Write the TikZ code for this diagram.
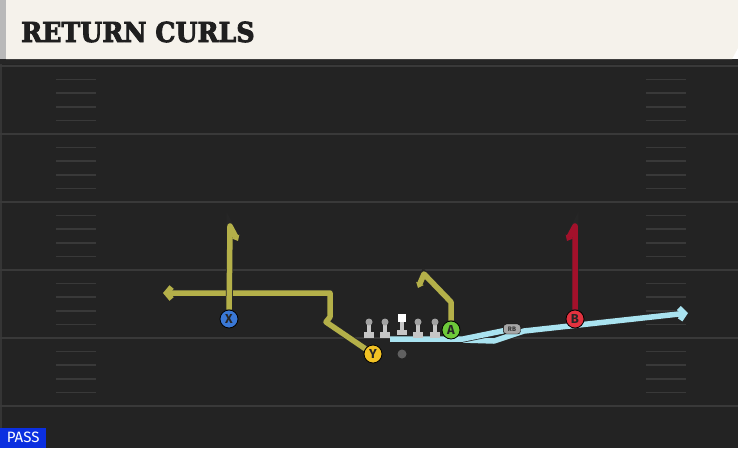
\documentclass[tikz,border=0pt]{standalone}
\usepackage{fontspec}
\setsansfont{Fira Sans}
\newfontfamily\titlefont[FakeBold=3,FakeStretch=0.92]{DejaVu Serif}
\usetikzlibrary{arrows.meta,backgrounds}
\definecolor{fieldgray}{HTML}{232323}
\definecolor{yardgray}{HTML}{393939}
\definecolor{cream}{HTML}{F5F2EB}
\definecolor{routeolive}{HTML}{B4B049}
\definecolor{routered}{HTML}{A3112B}
\definecolor{routecyan}{HTML}{A9E3F0}
\definecolor{xblue}{HTML}{3A78D6}
\definecolor{ygold}{HTML}{F2C224}
\definecolor{agreen}{HTML}{6DC93A}
\definecolor{bred}{HTML}{E2323F}
\definecolor{passblue}{HTML}{0B2FE0}
\definecolor{linegray}{HTML}{C6C6C6}
\definecolor{headgray}{HTML}{A2A2A2}
\tikzset{
  lineman/.pic={
    \fill[linegray] (-5,10) rectangle (5,16);
    \fill[linegray] (-2,2) rectangle (2,10);
    \fill[headgray] (0,0) circle (3.5);
  },
  snapman/.pic={
    \fill[linegray] (-5,8) rectangle (5,13);
    \fill[linegray] (-2,0) rectangle (2,8);
    \fill[white] (-4,-8) rectangle (4,0);
  }
}
\begin{document}
\begin{tikzpicture}[x=1pt,y=-1pt,
    player/.style={circle, draw=black, line width=0.8pt, minimum size=18, inner sep=0pt,
      font=\fontsize{13}{13}\sffamily\bfseries, text=black!85},
    route/.style={line width=5.5pt, line join=round, preaction={draw=black!85, line width=7pt}},
    curl/.style={-{Triangle[length=5pt,width=8pt]}},
    barb/.style={-{Straight Barb[length=5pt,width=12pt]}}]
\useasboundingbox (0,0) rectangle (738,448);
% field
\begin{scope}[on background layer]
  \fill[fieldgray] (0,59) rectangle (738,448);
  \fill[yardgray!80!fieldgray] (0,59) rectangle (2,448);
  \foreach \y in {66,134,202,270,338,406}
    \draw[yardgray, line width=2pt] (0,\y) -- (738,\y);
  \foreach \y in {66,134,202,270,338}
    \foreach \k in {1,...,4} {
      \draw[yardgray, line width=1.5pt] (56,\y+13.6*\k) -- (96,\y+13.6*\k);
      \draw[yardgray, line width=1.5pt] (646,\y+13.6*\k) -- (686,\y+13.6*\k);
    }
\end{scope}
% title bar
\fill[black!85] (0,59) rectangle (738,64);
\fill[gray!55] (0,0) rectangle (6,59);
\fill[cream] (6,0) -- (738,0) -- (738,48) -- (732,59) -- (6,59) -- cycle;
\node[anchor=base west, inner sep=0pt, text=black!88,
  font=\fontsize{27.5}{30}\titlefont\bfseries] (title) at (21,42) {RETURN CURLS};
\node[anchor=south west, fill=passblue, text=white, inner sep=0pt, minimum width=46,
  minimum height=20, font=\fontsize{15}{15}\sffamily] (pass) at (0,448) {PASS};
% line
\pic (lt) at (369,322) {lineman};
\pic (lg) at (385,322) {lineman};
\pic (cc) at (402,322) {snapman};
\pic (rg) at (418,322) {lineman};
\pic (rt) at (435,322) {lineman};
\node[circle, fill=gray!75!black, minimum size=9, inner sep=0pt] (QB) at (402,354) {};
% players
\node[player, fill=xblue] (X) at (229,319) {X};
\node[player, fill=ygold] (Y) at (373,354) {Y};
\node[player, fill=agreen] (A) at (451,330) {A};
\node[player, fill=bred] (B) at (575,319) {B};
\node[draw=black, fill=gray!70, rounded corners=3pt, minimum width=17, minimum height=10,
  inner sep=0pt, font=\fontsize{6.5}{6.5}\sffamily\bfseries, text=black!80] (RB) at (512,329) {RB};
\coordinate (rbstart) at (390,339);
\coordinate (rbend) at (688,313);
% routes
\begin{scope}[on background layer]
  \draw[route, routecyan, barb] (463,340) -- (494,341) -- (524,331) -- (rbend);
  \draw[route, routecyan] (rbstart) -- (463,339) -- (RB);
  \draw[route, routeolive, barb] (Y) -- (326,322) -- (330,317) -- (330,293) -- (163,293);
  \draw[route, routeolive, curl] (X) -- (230,226) -- (238,241);
  \draw[route, routeolive, curl] (A) -- (451,302) -- (424,274) -- (418,288);
  \draw[route, routered, curl] (B) -- (575,226) -- (567,241);
\end{scope}
\end{tikzpicture}
\end{document}
